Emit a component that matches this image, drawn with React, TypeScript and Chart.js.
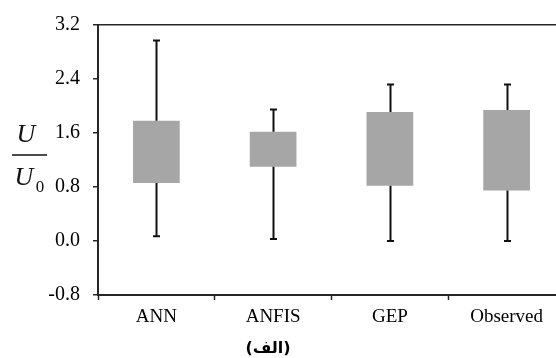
import React, { useEffect, useRef } from "react";
import { Chart, registerables } from "chart.js";

Chart.register(...registerables);

const categories = ["ANN", "ANFIS", "GEP", "Observed"];
const whiskerMin = [0.07, 0.03, 0.0, 0.0];
const boxLow = [0.86, 1.1, 0.82, 0.75];
const boxHigh = [1.78, 1.62, 1.91, 1.94];
const whiskerMax = [2.97, 1.95, 2.32, 2.32];
const yTicks = [-0.8, 0, 0.8, 1.6, 2.4, 3.2];
const captionText = "(الف)";

const AXIS = "#262626";
const SERIF = '"Liberation Serif", "Times New Roman", serif';

const whiskerPlugin = {
  id: "whiskers",
  afterDatasetsDraw(chart: any) {
    const { ctx, scales } = chart;
    const xs = scales.x;
    const ys = scales.y;
    ctx.save();
    ctx.strokeStyle = "#111";
    ctx.lineWidth = 2;
    categories.forEach((_, i) => {
      const x = Math.round(xs.getPixelForValue(i)) + 0.5;
      const yMin = ys.getPixelForValue(whiskerMin[i]);
      const yLo = ys.getPixelForValue(boxLow[i]);
      const yHi = ys.getPixelForValue(boxHigh[i]);
      const yMax = ys.getPixelForValue(whiskerMax[i]);
      ctx.beginPath();
      ctx.moveTo(x, yMax);
      ctx.lineTo(x, yHi);
      ctx.moveTo(x, yLo);
      ctx.lineTo(x, yMin);
      ctx.moveTo(x - 3.5, yMax);
      ctx.lineTo(x + 3.5, yMax);
      ctx.moveTo(x - 3.5, yMin);
      ctx.lineTo(x + 3.5, yMin);
      ctx.stroke();
    });
    ctx.restore();
  },
  afterDraw(chart: any) {
    const { ctx } = chart;
    ctx.save();
    ctx.fillStyle = "#111";
    ctx.textAlign = "center";
    ctx.textBaseline = "alphabetic";
    ctx.font = `italic 26px ${SERIF}`;
    ctx.fillText("U", 26, 142);
    ctx.fillText("U", 24, 185);
    ctx.font = `17px ${SERIF}`;
    ctx.fillText("0", 40, 192);
    ctx.strokeStyle = "#111";
    ctx.lineWidth = 1.5;
    ctx.beginPath();
    ctx.moveTo(12, 155);
    ctx.lineTo(47, 155);
    ctx.stroke();
    ctx.fillStyle = "#000";
    ctx.font = 'bold 16px "DejaVu Sans", sans-serif';
    ctx.textBaseline = "middle";
    ctx.fillText(captionText, 268, 349);
    ctx.restore();
  },
};

export default function App() {
  const canvasRef = useRef<HTMLCanvasElement | null>(null);

  useEffect(() => {
    const canvas = canvasRef.current;
    if (!canvas) return;
    const chart = new Chart(canvas, {
      type: "bar",
      data: {
        labels: categories,
        datasets: [
          {
            data: categories.map((_, i) => [boxLow[i], boxHigh[i]]) as any,
            backgroundColor: "#a6a6a6",
            borderWidth: 0,
            barPercentage: 0.4,
            categoryPercentage: 1,
          },
        ],
      },
      options: {
        responsive: false,
        animation: false,
        layout: { padding: { top: 23, left: 0, right: 0, bottom: 0 } },
        plugins: { legend: { display: false }, tooltip: { enabled: false } },
        scales: {
          x: {
            grid: {
              offset: true,
              drawOnChartArea: false,
              drawTicks: true,
              tickLength: 5,
              tickColor: AXIS,
              tickWidth: 1.5,
            },
            border: { display: true, color: AXIS, width: 2 },
            ticks: {
              color: "#000",
              font: { family: SERIF, size: 19 },
              padding: 6,
              maxRotation: 0,
              autoSkip: false,
            },
            afterFit: (s: any) => {
              s.height = 63;
            },
          },
          y: {
            min: -0.8,
            max: 3.2,
            afterBuildTicks: (s: any) => {
              s.ticks = yTicks.map((v) => ({ value: v }));
            },
            grid: {
              drawOnChartArea: true,
              color: (c: any) =>
                c.tick && Math.abs(c.tick.value - 3.2) < 1e-9 ? AXIS : "rgba(0,0,0,0)",
              lineWidth: 1.5,
              drawTicks: true,
              tickLength: 5,
              tickColor: AXIS,
              tickWidth: 1.5,
            },
            border: { display: true, color: AXIS, width: 2 },
            ticks: {
              color: "#000",
              font: { family: SERIF, size: 20 },
              padding: 13,
              callback: (v: any) => Number(v).toFixed(1),
            },
            afterFit: (s: any) => {
              s.width = 98;
            },
          },
        },
      },
      plugins: [whiskerPlugin],
    });
    return () => chart.destroy();
  }, []);

  return (
    <div
      style={{
        position: "absolute",
        left: 0,
        top: 0,
        width: 556,
        height: 358,
        overflow: "hidden",
        background: "#fff",
      }}
    >
      <canvas
        ref={canvasRef}
        width={565}
        height={358}
        style={{ width: 565, height: 358, display: "block" }}
      />
    </div>
  );
}
